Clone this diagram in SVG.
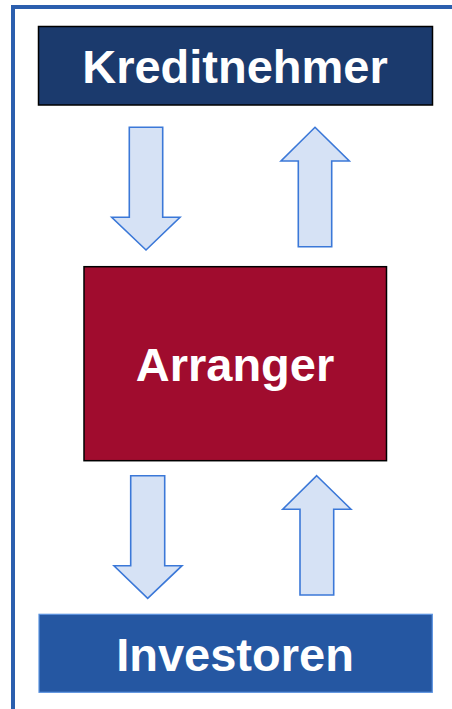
<svg xmlns="http://www.w3.org/2000/svg" width="452" height="709" viewBox="0 0 452 709">
<style>
.lbl{font-family:"Liberation Sans",Arial,sans-serif;font-weight:bold;font-size:47px;fill:#fff;text-anchor:middle}
.arr{fill:#d6e2f5;stroke:#3b78d8;stroke-width:1.6;stroke-linejoin:miter}
</style>
<rect x="0" y="0" width="452" height="709" fill="#fff"/>
<rect id="frame" x="13" y="7" width="460" height="720" fill="none" stroke="#2b5fae" stroke-width="4"/>
<g id="kreditnehmer">
<rect x="38.5" y="26.5" width="394" height="78.5" fill="#1b3a6d" stroke="#000" stroke-width="1.5"/>
<text class="lbl" x="235" y="83">Kreditnehmer</text>
</g>
<g id="arranger">
<rect x="84" y="266.7" width="302.5" height="194" fill="#a00c2e" stroke="#000" stroke-width="1.5"/>
<text class="lbl" x="235" y="381">Arranger</text>
</g>
<g id="investoren">
<rect x="39" y="614.3" width="393.3" height="78" fill="#2557a2" stroke="#5b93df" stroke-width="1.2"/>
<text class="lbl" x="235" y="671">Investoren</text>
</g>
<g id="connectors">
<polygon class="arr" points="129.3,127.3 162.7,127.3 162.7,217.3 180,217.3 146,250 111.7,217.3 129.3,217.3"/>
<polygon class="arr" points="315,127.3 349.3,161 331.7,161 331.7,246.7 298.3,246.7 298.3,161 281,161"/>
<polygon class="arr" points="130.7,475.7 164.7,475.7 164.7,565.7 182,565.7 147.7,598.3 114,565.7 130.7,565.7"/>
<polygon class="arr" points="316.7,475.7 351,509.3 333.7,509.3 333.7,595 300,595 300,509.3 282.7,509.3"/>
</g>
</svg>
